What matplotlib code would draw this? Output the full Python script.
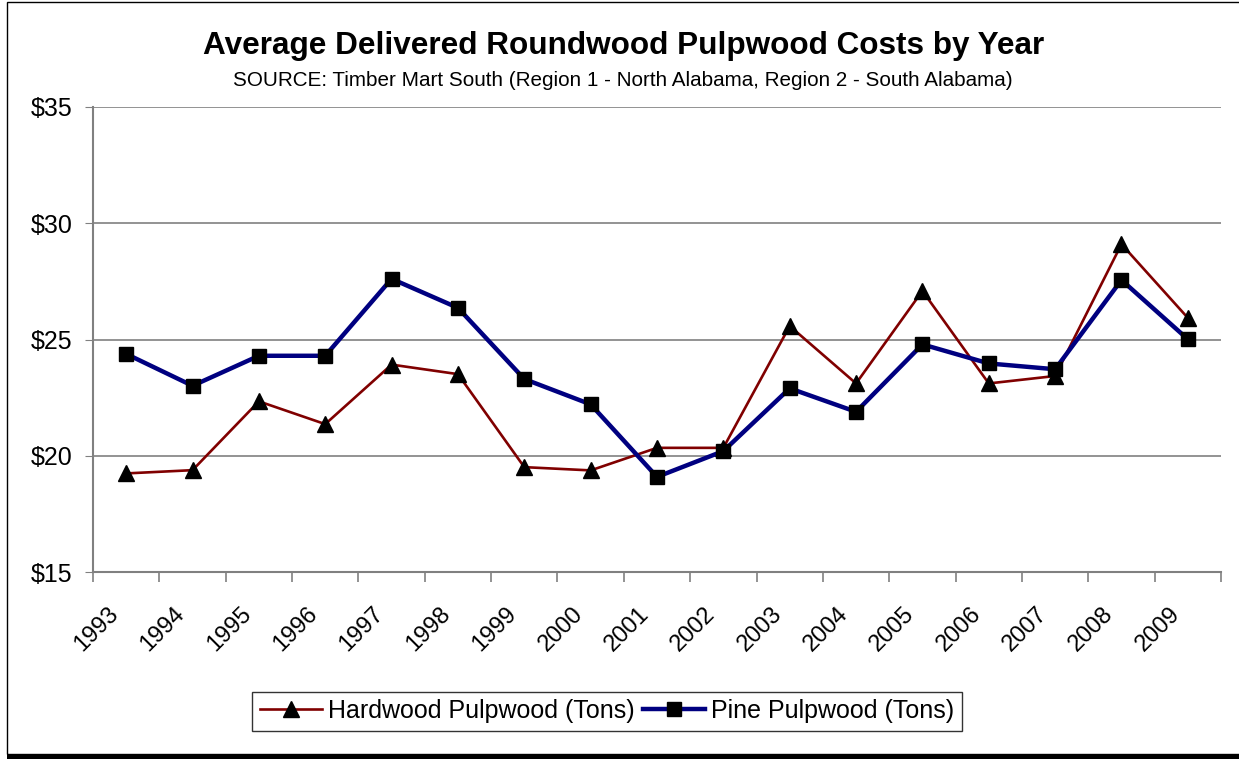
import matplotlib
matplotlib.use('Agg')
import matplotlib.pyplot as plt
import matplotlib.ticker
import matplotlib.transforms
from matplotlib.patches import Rectangle
import numpy as np

plt.rcParams['font.family'] = ['Liberation Sans', 'DejaVu Sans']

years = ['1993', '1994', '1995', '1996', '1997', '1998', '1999', '2000', '2001',
         '2002', '2003', '2004', '2005', '2006', '2007', '2008', '2009']
hardwood = [19.24, 19.38, 22.34, 21.36, 23.92, 23.51, 19.51, 19.37, 20.34,
            20.34, 25.58, 23.11, 27.09, 23.11, 23.43, 29.10, 25.93]
pine = [24.38, 23.01, 24.30, 24.30, 27.61, 26.36, 23.30, 22.21, 19.09,
        20.20, 22.90, 21.89, 24.79, 23.97, 23.72, 27.56, 25.01]

W, H = 1239, 759
fig = plt.figure(figsize=(W / 100, H / 100), dpi=100)
fig.patch.set_facecolor('white')

# chart area border (Excel style with shadow at bottom)
fig.add_artist(Rectangle((7 / W, 1 - 754 / H), (W + 20) / W, 752 / H,
                         transform=fig.transFigure, fill=False,
                         edgecolor='black', linewidth=1.0))
fig.add_artist(Rectangle((7 / W, 1 - 759 / H), (W + 20) / W, 4 / H,
                         transform=fig.transFigure, facecolor='black',
                         edgecolor='none'))

left, right, top, bottom = 93, 1221, 107, 572
ax = fig.add_axes([left / W, 1 - bottom / H, (right - left) / W, (bottom - top) / H])

x = np.arange(len(years))
ax.plot(x, hardwood, color='#800000', linewidth=1.9, marker='^',
        markersize=12, markerfacecolor='black', markeredgecolor='black',
        label='Hardwood Pulpwood (Tons)', zorder=3)
ax.plot(x, pine, color='#000080', linewidth=3.2, marker='s',
        markersize=10.5, markerfacecolor='black', markeredgecolor='black',
        label='Pine Pulpwood (Tons)', zorder=4)

ax.set_xlim(-0.5, len(years) - 0.5)
ax.set_ylim(15, 35)
ax.set_yticks([15, 20, 25, 30, 35])
ax.yaxis.set_major_formatter(matplotlib.ticker.FuncFormatter(lambda v, p: '${:.0f}'.format(v)))
ax.grid(axis='y', color='#808080', linewidth=1.2)
ax.set_axisbelow(True)

for s in ['top', 'right']:
    ax.spines[s].set_visible(False)
for s in ['left', 'bottom']:
    ax.spines[s].set_color('#808080')
    ax.spines[s].set_linewidth(1.5)

ax.tick_params(axis='y', length=6, color='#808080', labelsize=18, pad=9)

# year labels at category centres, tick marks at category boundaries
ax.set_xticks(x)
ax.set_xticklabels(years, rotation=45, ha='right', va='top',
                   rotation_mode='anchor', fontsize=17)
ax.tick_params(axis='x', which='major', length=0, pad=0)
offset = matplotlib.transforms.ScaledTranslation(-19 / 100, -31 / 100, fig.dpi_scale_trans)
for lbl in ax.get_xticklabels():
    lbl.set_transform(lbl.get_transform() + offset)
ax.set_xticks(np.arange(len(years) + 1) - 0.5, minor=True)
ax.tick_params(axis='x', which='minor', length=7, color='#808080', width=1.2)

fig.text(0.503, 1 - 46 / H, 'Average Delivered Roundwood Pulpwood Costs by Year',
         ha='center', va='center', fontsize=22.7, fontweight='bold')
fig.text(0.503, 1 - 80 / H,
         'SOURCE: Timber Mart South (Region 1 - North Alabama, Region 2 - South Alabama)',
         ha='center', va='center', fontsize=14.9)

leg = fig.legend(loc='center', bbox_to_anchor=(607 / W, 1 - 711 / H), ncol=2,
                 frameon=True, fancybox=False, fontsize=18, handlelength=2.5,
                 handletextpad=0.25, columnspacing=0.3, borderpad=0.3,
                 borderaxespad=0)
leg.get_frame().set_edgecolor('black')
leg.get_frame().set_linewidth(1.0)

fig.savefig('out.png', dpi=100)
